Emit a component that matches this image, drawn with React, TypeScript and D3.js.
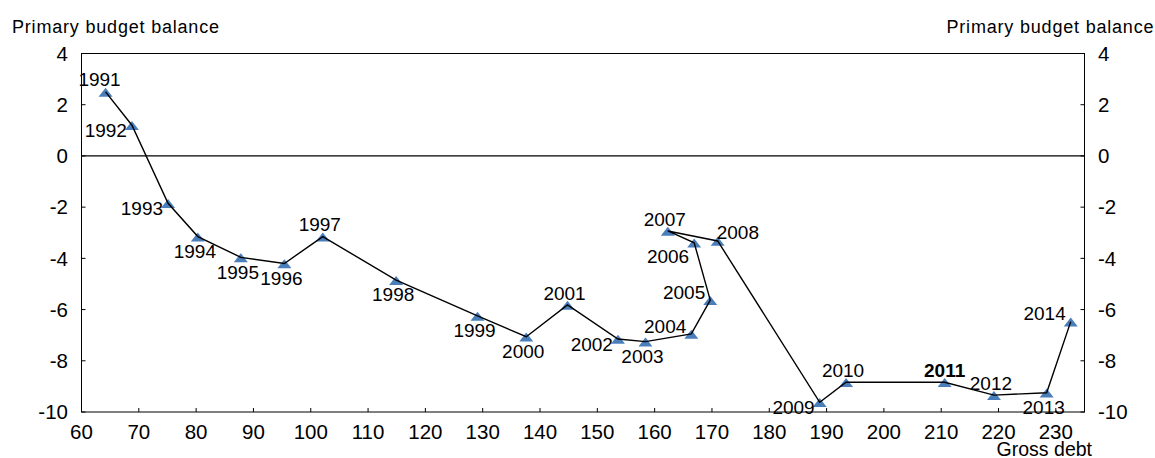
import React from "react";
import * as d3 from "d3";

const years = [1991, 1992, 1993, 1994, 1995, 1996, 1997, 1998, 1999, 2000, 2001, 2002, 2003, 2004, 2005, 2006, 2007, 2008, 2009, 2010, 2011, 2012, 2013, 2014];
const grossDebt = [64.2, 68.8, 75.1, 80.3, 87.8, 95.4, 102.1, 114.9, 129.1, 137.6, 144.8, 153.6, 158.4, 166.4, 169.7, 166.9, 162.3, 171.0, 188.8, 193.4, 210.6, 219.2, 228.4, 232.6];
const primaryBalance = [2.5, 1.2, -1.85, -3.15, -3.96, -4.2, -3.15, -4.85, -6.25, -7.06, -5.82, -7.15, -7.25, -6.95, -5.63, -3.39, -2.93, -3.32, -9.62, -8.84, -8.84, -9.34, -9.25, -6.47];
const labelPlacement = ["aboveL", "left", "left", "below", "below", "below", "above", "below", "below", "below", "above", "left", "below", "leftUp", "leftUp", "leftDown", "above", "rightUp", "left", "above", "aboveC", "above", "below", "leftUp"];
const boldYears = [2011];
const xTicks = [60, 70, 80, 90, 100, 110, 120, 130, 140, 150, 160, 170, 180, 190, 200, 210, 220, 230];
const yTicks = [4, 2, 0, -2, -4, -6, -8, -10];
const axisTitle = "Primary budget balance";
const xTitle = "Gross debt";

const W = 1155, H = 458;
const left = 81.5, right = 1084.5, top = 53.5, bottom = 412;
const FONT = "'Liberation Sans', Arial, sans-serif";

export default function App() {
  const x = d3.scaleLinear().domain([60, 235]).range([left, right]);
  const y = d3.scaleLinear().domain([-10, 4]).range([bottom, top]);
  const pts = years.map((yr, i) => ({ yr, x: x(grossDebt[i]), y: y(primaryBalance[i]), pos: labelPlacement[i] }));
  const line = d3.line<{ x: number; y: number }>().x(d => d.x).y(d => d.y)(pts) || "";
  const tri = "M0,-4.2L7,4.8L-7,4.8Z";
  const fs = 19;
  const base = fs * 0.36;

  const label = (p: { yr: number; x: number; y: number; pos: string }) => {
    let anchor: "start" | "middle" | "end" = "middle";
    let dx = -3, dy = 0;
    switch (p.pos) {
      case "above": dy = -12; break;
      case "aboveL": dx = -6; dy = -12.5; break;
      case "aboveC": dx = 0; dy = -12; break;
      case "below": dy = 14.5; break;
      case "left": anchor = "end"; dx = -5; dy = 5; break;
      case "leftUp": anchor = "end"; dx = -5; dy = -8; break;
      case "leftDown": anchor = "end"; dx = -5; dy = 13; break;
      case "rightUp": anchor = "start"; dx = -1; dy = -8.5; break;
    }
    return (
      <text key={"l" + p.yr} x={p.x + dx} y={p.y + dy + base} textAnchor={anchor} fontSize={fs}
        fontWeight={boldYears.includes(p.yr) ? "bold" : "normal"} fill="#000">{p.yr}</text>
    );
  };

  return (
    <svg width={W} height={H} style={{ position: "absolute", left: 0, top: 0, background: "#fff" }} fontFamily={FONT}>
      <rect x={0} y={0} width={W} height={H} fill="#fff" />
      <rect x={left} y={top} width={right - left} height={bottom - top} fill="none" stroke="#000" strokeWidth={1} />
      <line x1={left} x2={right} y1={y(0)} y2={y(0)} stroke="#000" strokeWidth={1.2} />
      {xTicks.map(t => (
        <g key={"x" + t}>
          <line x1={x(t)} x2={x(t)} y1={bottom} y2={bottom - 4} stroke="#000" />
          <text x={x(t)} y={bottom + 27} textAnchor="middle" fontSize={20.5}>{t}</text>
        </g>
      ))}
      {yTicks.map(t => (
        <g key={"y" + t}>
          <line x1={left} x2={left + 4} y1={y(t)} y2={y(t)} stroke="#000" />
          <line x1={right} x2={right - 4} y1={y(t)} y2={y(t)} stroke="#000" />
          <text x={left - 13.5} y={y(t) + 7.3} textAnchor="end" fontSize={20.5}>{t}</text>
          <text x={right + 13.5} y={y(t) + 7.3} textAnchor="start" fontSize={20.5}>{t}</text>
        </g>
      ))}
      {pts.map(p => (
        <path key={"m" + p.yr} d={tri} transform={`translate(${p.x},${p.y})`} fill="#4A7EBB" />
      ))}
      <path d={line} fill="none" stroke="#000" strokeWidth={1.4} />
      {pts.map(label)}
      <text x={12} y={33} fontSize={18} textLength={207} lengthAdjust="spacing">{axisTitle}</text>
      <text x={946.5} y={33} fontSize={18} textLength={207} lengthAdjust="spacing">{axisTitle}</text>
      <text x={1092} y={456} fontSize={19.5} textAnchor="end">{xTitle}</text>
    </svg>
  );
}
